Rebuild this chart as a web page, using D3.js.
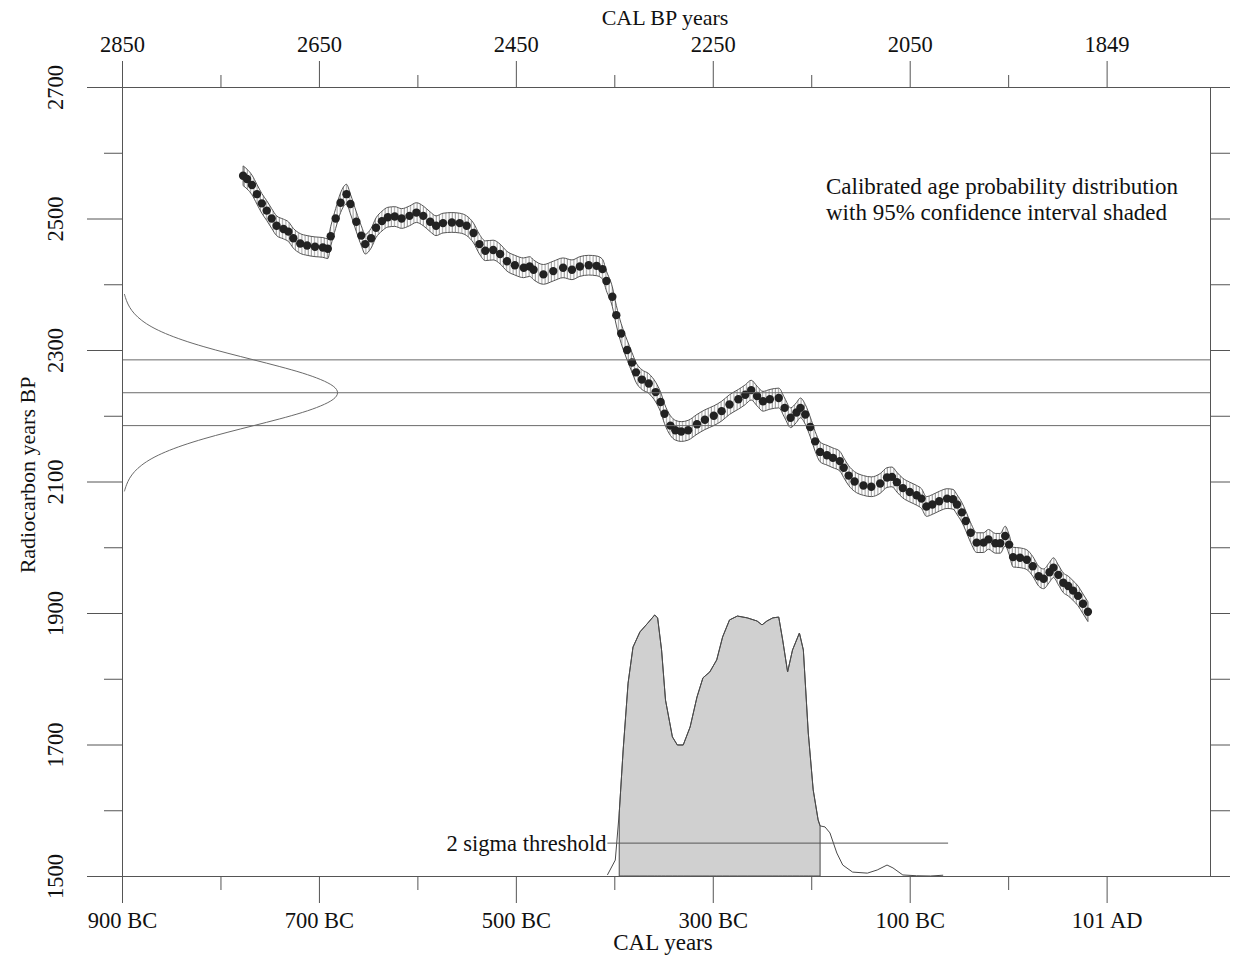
<!DOCTYPE html>
<html>
<head>
<meta charset="utf-8">
<script src="https://cdn.jsdelivr.net/npm/d3@7"></script>
<style>
  body { margin: 0; background: #fff; }
  svg text { font-family: "Liberation Serif", "Times New Roman", serif; fill: #111; }
</style>
</head>
<body>
<div id="chart"></div>
<script>
// calibration curve (calendar year, negative = BC) and radiocarbon age
var calYear = [-777,-773,-768,-763,-758,-753,-748,-743,-736,-731,-726,-719,-712,-704,-696,-691,-688,-683,-678,-672,-668,-662,-657,-653,-647,-642,-636,-630,-623,-616,-608,-601,-594,-587,-581,-574,-565,-557,-550,-543,-537,-531,-523,-516,-509,-501,-492,-486,
  -482,-472,-462,-452,-443,-435,-426,-418,-412,-408,-402,-398,-393,-387,-382,-378,-372,-365,-358,-353,-349,-343,-338,-332,-325,-316,-308,-299,-291,-283,-274,-267,-261,-255,-249,-242,-233,-227,-221,-215,-211,-206,-201,-196,
  -191,-184,-178,-171,-167,-162,-156,-147,-139,-130,-123,-118,-113,-107,-100,-93,-88,-83,-77,-70,-62,-56,-52,-47,-43,-38,-32,-25,-20,-13,-8,-3,1,5,12,19,25,31,36,42,46,51,56,61,66,71,76,81];
var c14Age = [2565,2560,2551,2537,2523,2512,2500,2489,2484,2480,2470,2462,2459,2457,2456,2454,2473,2500,2524,2537,2522,2495,2474,2461,2470,2486,2496,2502,2503,2500,2504,2509,2504,2495,2489,2493,2494,2493,2489,2478,2461,2451,2452,2446,2435,2429,2425,2427,
  2422,2415,2420,2425,2422,2427,2429,2428,2423,2405,2381,2353,2325,2300,2281,2266,2255,2249,2236,2221,2203,2185,2178,2176,2178,2187,2194,2200,2207,2217,2225,2232,2239,2230,2222,2225,2227,2212,2197,2205,2212,2202,2183,2161,
  2145,2140,2136,2131,2121,2109,2100,2094,2092,2097,2106,2107,2099,2090,2084,2079,2074,2062,2065,2070,2074,2073,2065,2053,2040,2022,2007,2007,2012,2006,2006,2017,2004,1985,1984,1981,1971,1956,1952,1962,1969,1958,1946,1941,1934,1926,1914,1902];
var curveErr = 15;

// measured date: 2235 +/- 50 BP
var c14Mean = 2235, c14Sigma = 50;
var gaussAge = [2085,2095,2105,2115,2125,2135,2145,2155,2165,2175,2185,2195,2205,2215,2225,2235,2245,2255,2265,2275,2285,2295,2305,2315,2325,2335,2345,2355,2365,2375,2385];
var gaussDensity = [0.011,0.020,0.034,0.056,0.089,0.135,0.198,0.278,0.375,0.487,0.607,0.726,0.835,0.920,0.980,1.0,0.980,0.920,0.835,0.726,0.607,0.487,0.375,0.278,0.198,0.135,0.089,0.056,0.034,0.020,0.011];

// calibrated probability distribution
var probYear = [-407,-399,-395,-391,-386,-381,-374,-366,-359,-356,-352,-348,-341,-336,-330,-323,-316,-310,-303,-296,-290,-283,-275,-265,-255,-250,-245,-239,-233,-229,-224,-219,-212,-208,-203,-198,-193,-191,-186,-181,-174,-168,-158,-143,-133,-123,-117,-107,-93,-79,-66];
var probValue = [0.004,0.061,0.241,0.483,0.739,0.877,0.935,0.969,1.0,0.989,0.866,0.674,0.533,0.502,0.502,0.571,0.686,0.759,0.782,0.828,0.916,0.981,0.996,0.989,0.977,0.962,0.977,0.989,0.992,0.904,0.782,0.866,0.931,0.866,0.548,0.330,0.215,0.192,0.188,0.165,0.088,0.042,0.015,0.011,0.023,0.042,0.031,0.004,0.001,0.0,0.003];
var interval95 = [-395, -191];
var threshold = 0.126;
var thresholdSpan = [-407, -61];

// ticks
var radioMajor = [1500,1700,1900,2100,2300,2500,2700];
var radioMinor = [1600,1800,2000,2200,2400,2600];
var radioAll = [1500,1600,1700,1800,1900,2000,2100,2200,2300,2400,2500,2600,2700];
var calMajor = [-900,-700,-500,-300,-100,100];
var calLabels = ["900 BC","700 BC","500 BC","300 BC","100 BC","101 AD"];
var calMinor = [-800,-600,-400,-200,0];
var bpMajor = [2850,2650,2450,2250,2050,1850];
var bpLabels = ["2850","2650","2450","2250","2050","1849"];
var bpMinor = [2750,2550,2350,2150,1950];

var width = 1236, height = 956;
var margin = {left: 122, right: 1210, top: 87, bottom: 876};

var svg = d3.select("#chart").append("svg")
  .attr("width", width)
  .attr("height", height);

svg.append("rect").attr("width", width).attr("height", height).attr("fill", "#fff");

var x = d3.scaleLinear().domain([-900, 205]).range([margin.left, margin.right]);
var xbp = d3.scaleLinear().domain([2850, 1745]).range([margin.left, margin.right]);
var y = d3.scaleLinear().domain([1500, 2700]).range([margin.bottom, margin.top]);
var yProb = d3.scaleLinear().domain([0, 1]).range([margin.bottom, margin.bottom - 261]);
var gx = d3.scaleLinear().domain([0, 1]).range([margin.left, margin.left + 217]);

// hatch pattern for the error band
var defs = svg.append("defs");
defs.append("pattern")
  .attr("id", "hatch")
  .attr("patternUnits", "userSpaceOnUse")
  .attr("width", 3.2).attr("height", 10)
  .append("line")
    .attr("x1", 1).attr("x2", 1).attr("y1", 0).attr("y2", 10)
    .attr("stroke", "#6e6e6e").attr("stroke-width", 0.8);

var curve = calYear.map((d, i) => ({t: d, r: c14Age[i]}));

// error band
svg.append("path")
  .datum(curve)
  .attr("d", d3.area()
    .x(d => x(d.t))
    .y0(d => y(d.r - curveErr))
    .y1(d => y(d.r + curveErr))
    .curve(d3.curveMonotoneX))
  .attr("fill", "url(#hatch)")
  .attr("stroke", "#555")
  .attr("stroke-width", 1);

// dots
svg.append("g")
  .selectAll("circle")
  .data(curve)
  .join("circle")
    .attr("cx", d => x(d.t))
    .attr("cy", d => y(d.r))
    .attr("r", 4.2)
    .attr("fill", "#222");

// measured date lines
[c14Mean + c14Sigma, c14Mean, c14Mean - c14Sigma].forEach(v => {
  svg.append("line")
    .attr("x1", margin.left).attr("x2", margin.right)
    .attr("y1", y(v)).attr("y2", y(v))
    .attr("stroke", "#6a6a6a").attr("stroke-width", 1);
});

// gaussian on the radiocarbon axis
var gauss = gaussAge.map((d, i) => ({r: d, p: gaussDensity[i]}));
svg.append("path")
  .datum(gauss)
  .attr("d", d3.line().x(d => gx(d.p)).y(d => y(d.r)).curve(d3.curveBasis))
  .attr("fill", "none")
  .attr("stroke", "#6a6a6a")
  .attr("stroke-width", 1);

// calibrated distribution
var prob = probYear.map((d, i) => ({t: d, p: probValue[i]}));
var shaded = prob.filter(d => d.t >= interval95[0] && d.t <= interval95[1]);

svg.append("path")
  .datum(shaded)
  .attr("d", d3.area().x(d => x(d.t)).y0(margin.bottom).y1(d => yProb(d.p)))
  .attr("fill", "#d0d0d0")
  .attr("stroke", "#4a4a4a")
  .attr("stroke-width", 1);

svg.append("path")
  .datum(prob)
  .attr("d", d3.line().x(d => x(d.t)).y(d => yProb(d.p)))
  .attr("fill", "none")
  .attr("stroke", "#4a4a4a")
  .attr("stroke-width", 1);

svg.append("line")
  .attr("x1", x(thresholdSpan[0])).attr("x2", x(thresholdSpan[1]))
  .attr("y1", yProb(threshold)).attr("y2", yProb(threshold))
  .attr("stroke", "#555").attr("stroke-width", 1);

svg.append("text")
  .attr("x", x(thresholdSpan[0]) - 1)
  .attr("y", yProb(threshold))
  .attr("dy", "0.35em")
  .attr("text-anchor", "end")
  .style("font-size", "22.5px")
  .text("2 sigma threshold");

// axes
function styleAxis(g) {
  g.selectAll("path, line").attr("stroke", "#555").attr("stroke-width", 1);
  g.selectAll("text").style("font-size", "22.5px").attr("fill", "#111");
}

// left
svg.append("g")
  .attr("transform", `translate(${margin.left},0)`)
  .call(d3.axisLeft(y).tickValues(radioMinor).tickSize(18).tickSizeOuter(0).tickFormat(""))
  .call(styleAxis);
svg.append("g")
  .attr("transform", `translate(${margin.left},0)`)
  .call(d3.axisLeft(y).tickValues(radioMajor).tickSize(35).tickSizeOuter(0).tickFormat(d3.format("d")))
  .call(styleAxis)
  .call(g => g.selectAll("text")
    .attr("x", 0).attr("y", 0).attr("dy", "0.35em")
    .attr("text-anchor", "middle")
    .attr("transform", "translate(-67,0) rotate(-90)"));

// right
svg.append("g")
  .attr("transform", `translate(${margin.right},0)`)
  .call(d3.axisRight(y).tickValues(radioAll).tickSize(20).tickSizeOuter(0).tickFormat(""))
  .call(styleAxis);

// bottom
svg.append("g")
  .attr("transform", `translate(0,${margin.bottom})`)
  .call(d3.axisBottom(x).tickValues(calMinor).tickSize(14).tickSizeOuter(0).tickFormat(""))
  .call(styleAxis);
svg.append("g")
  .attr("transform", `translate(0,${margin.bottom})`)
  .call(d3.axisBottom(x).tickValues(calMajor).tickSize(27).tickSizeOuter(0)
    .tickFormat((d, i) => calLabels[i]))
  .call(styleAxis)
  .call(g => g.selectAll("text").attr("y", 36));

// top
svg.append("g")
  .attr("transform", `translate(0,${margin.top})`)
  .call(d3.axisTop(xbp).tickValues(bpMinor).tickSize(12).tickSizeOuter(0).tickFormat(""))
  .call(styleAxis);
svg.append("g")
  .attr("transform", `translate(0,${margin.top})`)
  .call(d3.axisTop(xbp).tickValues(bpMajor).tickSize(26).tickSizeOuter(0)
    .tickFormat((d, i) => bpLabels[i]))
  .call(styleAxis)
  .call(g => g.selectAll("text").attr("y", -35));

// axis titles
svg.append("text")
  .attr("x", 665).attr("y", 25)
  .attr("text-anchor", "middle")
  .style("font-size", "22px")
  .text("CAL BP years");

svg.append("text")
  .attr("x", 663).attr("y", 950)
  .attr("text-anchor", "middle")
  .style("font-size", "23px")
  .text("CAL years");

svg.append("text")
  .attr("transform", "translate(35,475) rotate(-90)")
  .attr("text-anchor", "middle")
  .style("font-size", "22px")
  .text("Radiocarbon years BP");

// annotation
var note = svg.append("text")
  .attr("x", 826).attr("y", 194)
  .style("font-size", "23px");
note.append("tspan").attr("x", 826).text("Calibrated age probability distribution");
note.append("tspan").attr("x", 826).attr("dy", 26).text("with 95% confidence interval shaded");
</script>
</body>
</html>
